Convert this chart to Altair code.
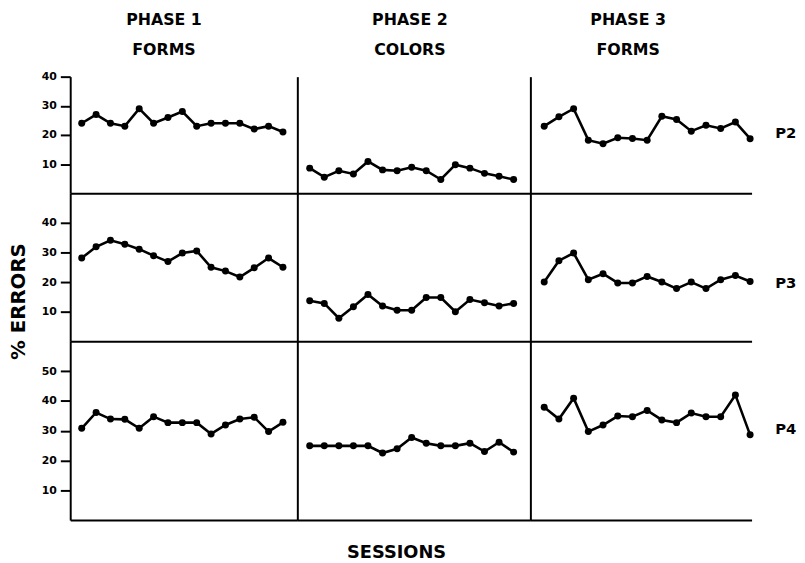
import altair as alt
import pandas as pd

FONT = "DejaVu Sans"

sessions = list(range(1, 16))

# % errors per session
p2_phase1 = [24, 27, 24, 23, 29, 24, 26, 28, 23, 24, 24, 24, 22, 23, 21]
p2_phase2 = [8.6, 5.5, 7.7, 6.6, 10.9, 8, 7.7, 8.9, 7.7, 4.7, 9.8, 8.6, 6.8, 5.8, 4.7]
p2_phase3 = [23, 26.2, 29, 18.2, 17, 19, 18.8, 18.2, 26.4, 25.3, 21.3, 23.3, 22.2, 24.4, 18.7]
p3_phase1 = [28.1, 31.9, 34.1, 32.8, 31.1, 28.9, 26.9, 29.8, 30.5, 25, 23.7, 21.7, 24.8, 28.1, 25]
p3_phase2 = [13.7, 12.8, 7.8, 11.7, 15.8, 11.9, 10.5, 10.5, 14.8, 14.8, 10, 14.1, 13, 11.9, 12.8]
p3_phase3 = [20, 27.2, 29.8, 20.8, 22.8, 19.7, 19.7, 21.9, 20, 17.8, 20, 17.8, 20.8, 22.2, 20.2]
p4_phase1 = [30.8, 36.1, 33.9, 33.8, 30.8, 34.7, 32.7, 32.7, 32.7, 28.9, 31.9, 33.9, 34.5, 29.7, 32.8]
p4_phase2 = [24.9, 24.9, 24.9, 24.9, 24.9, 22.5, 23.9, 27.7, 25.8, 24.9, 24.9, 25.8, 23, 26.1, 22.8]
p4_phase3 = [37.9, 33.9, 40.9, 29.7, 31.9, 34.9, 34.7, 36.8, 33.6, 32.7, 35.9, 34.7, 34.7, 42, 28.6]

phase_titles = [["PHASE 1", "FORMS"], ["PHASE 2", "COLORS"], ["PHASE 3", "FORMS"]]
participants = ["P2", "P3", "P4"]
row_ymax = [40, 50, 60]
row_ticks = [[10, 20, 30, 40], [10, 20, 30, 40], [10, 20, 30, 40, 50]]
series = [
    [p2_phase1, p2_phase2, p2_phase3],
    [p3_phase1, p3_phase2, p3_phase3],
    [p4_phase1, p4_phase2, p4_phase3],
]

col_domains = [[0.2, 16], [0.15, 16.15], [0.06, 15.1]]
col_widths = [230, 236, 224]
row_heights = [118, 150, 181]
header_dx = [-20, -4, -13]
header_offset = [12.5, 18.5, 18.5]
label_y = [57, 91, 89]


def panel(values, r, c):
    df = pd.DataFrame({"session": sessions, "pct": values})
    first = c == 0
    h = row_heights[r]
    w = col_widths[c]
    ext = 34 if first else 0
    yaxis = alt.Axis(
        values=row_ticks[r], labels=first, ticks=first, tickSize=10, tickWidth=2,
        tickColor="black", labelPadding=4, labelFontSize=11, labelFont=FONT,
        labelFontWeight="bold", labelColor="black", domainWidth=2, domainColor="black",
        grid=False, minExtent=ext, maxExtent=ext,
    )
    xkw = dict(labels=False, ticks=False, grid=False, domainWidth=2, domainColor="black",
               minExtent=0, maxExtent=0)
    if r == 2 and c == 1:
        xaxis = alt.Axis(titleFontSize=18, titleFont=FONT, titleFontWeight="bold",
                         titleColor="black", titlePadding=24, titleX=100, **xkw)
        xtitle = "SESSIONS"
    else:
        xaxis = alt.Axis(**xkw)
        xtitle = None
    base = alt.Chart(df).mark_line(
        color="black", strokeWidth=2.6,
        point=alt.OverlayMarkDef(filled=True, color="black", size=50, opacity=1),
    ).encode(
        x=alt.X("session:Q", scale=alt.Scale(domain=col_domains[c], nice=False, zero=False),
                axis=xaxis, title=xtitle),
        y=alt.Y("pct:Q", scale=alt.Scale(domain=[0, row_ymax[r]], nice=False),
                axis=yaxis, title=None),
    )
    layers = [base]
    if c == 2:
        lab = alt.Chart(pd.DataFrame({"t": [participants[r]]})).mark_text(
            align="left", baseline="middle", font=FONT, fontWeight="bold",
            fontSize=15, color="black",
        ).encode(x=alt.value(w + 24), y=alt.value(label_y[r]), text="t:N")
        layers.append(lab)
    ch = alt.layer(*layers)
    props = dict(width=w, height=h)
    if r == 0:
        props["title"] = alt.TitleParams(
            phase_titles[c], fontSize=16, font=FONT, fontWeight="bold", color="black",
            lineHeight=31, offset=header_offset[c], dx=header_dx[c], anchor="middle",
            frame="group",
        )
    return ch.properties(**props)


rows = []
for r in range(3):
    rows.append(alt.hconcat(*[panel(series[r][c], r, c) for c in range(3)], spacing=0))

chart = alt.vconcat(*rows, spacing=0).properties(
    padding={"left": 0, "top": 0, "right": 0, "bottom": 0},
    background="white",
    title=alt.TitleParams("% ERRORS", orient="left", anchor="middle", fontSize=20,
                          font=FONT, fontWeight="bold", color="black", offset=8, dx=-15),
).configure_view(strokeWidth=0, stroke="transparent")

chart.save("out.html", embed_options={"renderer": "svg", "actions": False})
